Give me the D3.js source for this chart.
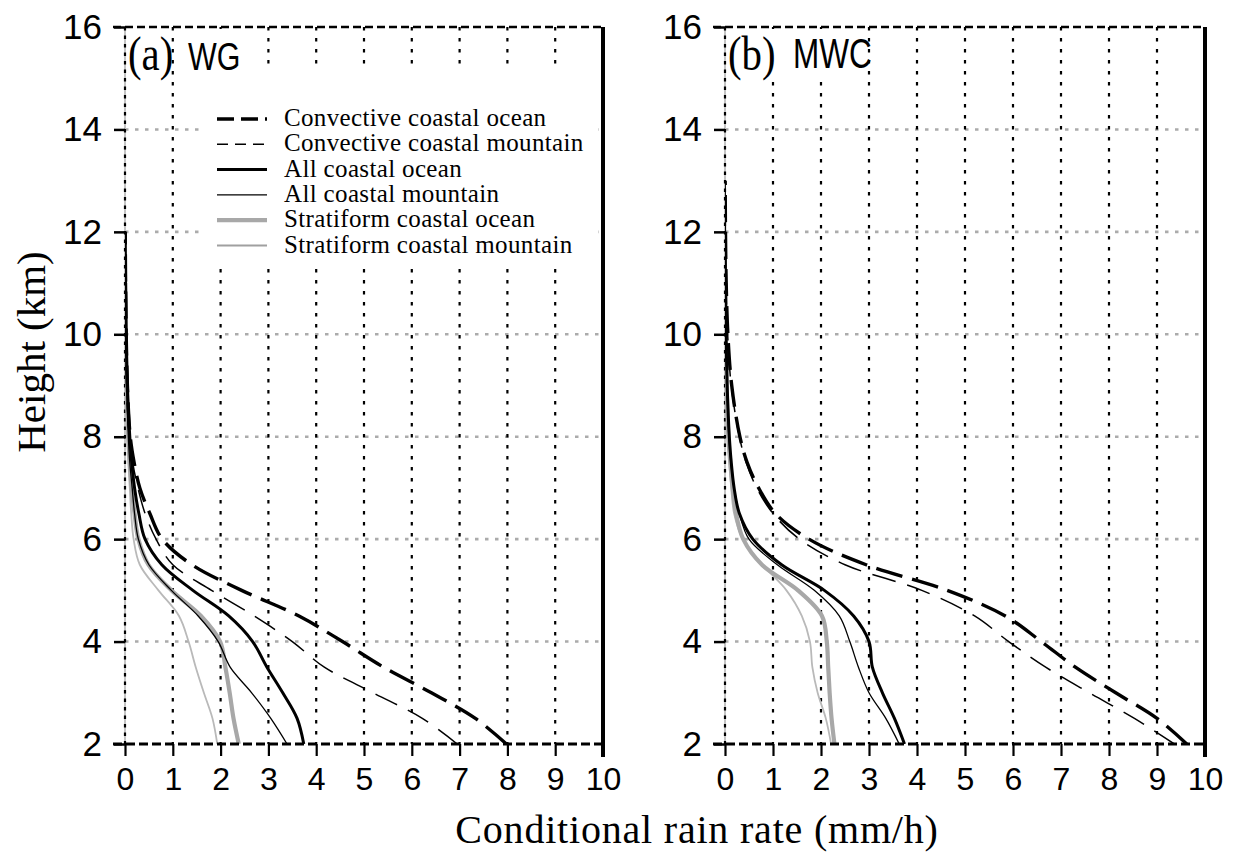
<!DOCTYPE html>
<html>
<head>
<meta charset="utf-8">
<script src="https://cdn.jsdelivr.net/npm/d3@7"></script>
<style>
  body { margin: 0; background: #fff; }
  svg { display: block; }
</style>
</head>
<body>
<svg id="chart" width="1237" height="858"></svg>
<script>
// Heights (km) at which the rain-rate profiles are sampled
const heights = [2, 2.5, 3, 3.5, 4, 4.5, 5, 5.5, 6, 6.5, 7, 7.5, 8, 9, 10, 11, 12, 13];

const xTicks = [0, 1, 2, 3, 4, 5, 6, 7, 8, 9, 10];
const yTicks = [2, 4, 6, 8, 10, 12, 14, 16];

const seriesNames = [
  "Convective coastal ocean",
  "Convective coastal mountain",
  "All coastal ocean",
  "All coastal mountain",
  "Stratiform coastal ocean",
  "Stratiform coastal mountain"
];

// (a) WG — conditional rain rate (mm/h)
const wgConvOcean     = [7.98, 7.33, 6.41, 5.41, 4.55, 3.64, 2.44, 1.40, 0.78, 0.52, 0.31, 0.19, 0.11, 0.05, 0.025, 0.012, 0.005, null];
const wgConvMountain  = [6.95, 6.22, 5.19, 4.17, 3.50, 2.70, 1.81, 1.00, 0.65, 0.42, 0.27, 0.16, 0.09, 0.045, 0.02, 0.01, 0.004, null];
const wgAllOcean      = [3.74, 3.60, 3.30, 2.97, 2.67, 2.17, 1.42, 0.77, 0.42, 0.29, 0.20, 0.14, 0.10, 0.05, 0.025, 0.012, 0.005, null];
const wgAllMountain   = [3.39, 3.05, 2.65, 2.20, 1.95, 1.53, 0.97, 0.50, 0.28, 0.20, 0.15, 0.10, 0.07, 0.035, 0.018, 0.008, 0.003, null];
const wgStratOcean    = [2.38, 2.27, 2.19, 2.10, 1.99, 1.59, 0.97, 0.49, 0.28, 0.20, 0.14, 0.10, 0.07, 0.035, 0.015, 0.006, null, null];
const wgStratMountain = [1.93, 1.83, 1.65, 1.48, 1.33, 1.13, 0.70, 0.31, 0.18, 0.13, 0.10, 0.07, 0.05, 0.025, 0.01, null, null, null];

// (b) MWC — conditional rain rate (mm/h)
const mwcConvOcean     = [9.62, 9.00, 8.14, 7.30, 6.59, 5.84, 4.63, 2.94, 1.75, 1.05, 0.70, 0.46, 0.31, 0.14, 0.06, 0.025, 0.01, 0.004];
const mwcConvMountain  = [9.36, 8.53, 7.59, 6.68, 5.91, 5.20, 4.10, 2.50, 1.55, 1.00, 0.66, 0.44, 0.30, 0.13, 0.055, 0.022, 0.008, 0.003];
const mwcAllOcean      = [3.74, 3.53, 3.28, 3.07, 3.00, 2.68, 2.07, 1.18, 0.58, 0.30, 0.19, 0.13, 0.09, 0.045, 0.02, 0.01, 0.004, null];
const mwcAllMountain   = [3.63, 3.35, 3.00, 2.78, 2.60, 2.38, 1.86, 1.09, 0.50, 0.30, 0.19, 0.12, 0.08, 0.04, 0.018, 0.008, 0.003, null];
const mwcStratOcean    = [2.28, 2.22, 2.18, 2.15, 2.12, 2.02, 1.52, 0.77, 0.38, 0.23, 0.16, 0.11, 0.07, 0.035, 0.015, 0.006, null, null];
const mwcStratMountain = [2.21, 2.10, 1.93, 1.82, 1.77, 1.60, 1.28, 0.78, 0.37, 0.19, 0.13, 0.09, 0.06, 0.03, 0.012, null, null, null];

// Line styles, one per series
const seriesStyles = [
  { color: "#000",    width: 3.4, dash: "27,10", legendDash: "17,7" },
  { color: "#000",    width: 1.5, dash: "24,12", legendDash: "11,7" },
  { color: "#000",    width: 3.0, dash: null,    legendDash: null },
  { color: "#000",    width: 1.3, dash: null,    legendDash: null },
  { color: "#a8a8a8", width: 4.2, dash: null,    legendDash: null },
  { color: "#b9b9b9", width: 1.8, dash: null,    legendDash: null }
];

const panels = [
  { tag: "(a)", region: "WG",  range: [125, 603],  legend: true,
    series: [wgConvOcean, wgConvMountain, wgAllOcean, wgAllMountain, wgStratOcean, wgStratMountain] },
  { tag: "(b)", region: "MWC", range: [725, 1205], legend: false,
    series: [mwcConvOcean, mwcConvMountain, mwcAllOcean, mwcAllMountain, mwcStratOcean, mwcStratMountain] }
];

const svg = d3.select("#chart");
const y = d3.scaleLinear().domain([2, 16]).range([744, 27]);
const sansFont = "'Liberation Sans', Arial, sans-serif";
const serifFont = "'Liberation Serif', 'Times New Roman', serif";

panels.forEach((p, pi) => {
  const x = d3.scaleLinear().domain([0, 10]).range(p.range);
  const g = svg.append("g");
  const x0 = x(0), x1 = x(10), yTop = y(16), yBot = y(2);

  // horizontal grid (gray dots)
  g.selectAll(".hgrid").data(yTicks.filter(t => t > 2 && t < 16)).enter()
    .append("line")
    .attr("x1", x0).attr("x2", x1)
    .attr("y1", d => y(d)).attr("y2", d => y(d))
    .attr("stroke", "#ababab").attr("stroke-width", 2.6)
    .attr("stroke-dasharray", "3.5,6.5");

  // vertical grid (black dots)
  g.selectAll(".vgrid").data(xTicks.filter(t => t > 0 && t < 10)).enter()
    .append("line")
    .attr("x1", d => x(d)).attr("x2", d => x(d))
    .attr("y1", yTop).attr("y2", yBot)
    .attr("stroke", "#000").attr("stroke-width", 2.2)
    .attr("stroke-dasharray", "3.5,7.5");

  // left edge: faint solid with dotted overlay
  g.append("line").attr("x1", x0).attr("x2", x0).attr("y1", yTop).attr("y2", yBot)
    .attr("stroke", "#c4c4c4").attr("stroke-width", 2);
  g.append("line").attr("x1", x0).attr("x2", x0).attr("y1", yTop).attr("y2", yBot)
    .attr("stroke", "#000").attr("stroke-width", 2.2).attr("stroke-dasharray", "3.5,5");

  // white backing behind the panel title
  if (pi === 0) {
    g.append("rect").attr("x", 185).attr("y", yTop + 2).attr("width", 62).attr("height", 48).attr("fill", "#fff");
  } else {
    g.append("rect").attr("x", x0 + 2).attr("y", yTop + 2).attr("width", 140).attr("height", 48).attr("fill", "#fff");
  }

  // legend (panel a)
  if (p.legend) {
    g.append("rect").attr("x", 200).attr("y", 68).attr("width", 398).attr("height", 194).attr("fill", "#fff");
    const lg = g.append("g");
    seriesNames.forEach((name, i) => {
      const st = seriesStyles[i];
      const by = 126 + i * 25.3;
      lg.append("line")
        .attr("x1", 217).attr("x2", 267).attr("y1", by - 7).attr("y2", by - 7)
        .attr("stroke", st.color === "#b9b9b9" ? "#a0a0a0" : st.color)
        .attr("stroke-width", st.width)
        .attr("stroke-dasharray", st.legendDash);
      lg.append("text")
        .attr("x", 284).attr("y", by)
        .attr("font-family", serifFont).attr("font-size", 25)
        .attr("letter-spacing", "0.35px")
        .attr("fill", "#000")
        .text(name);
    });
  }

  // profiles
  const clipId = "clip" + pi;
  svg.append("clipPath").attr("id", clipId).append("rect")
    .attr("x", x0).attr("y", yTop).attr("width", x1 - x0).attr("height", yBot - yTop);
  const line = d3.line()
    .defined(d => d.v !== null)
    .x(d => x(d.v)).y(d => y(d.h))
    .curve(d3.curveCatmullRom.alpha(0.5));
  const cg = g.append("g").attr("clip-path", `url(#${clipId})`);
  for (let i = p.series.length - 1; i >= 0; i--) {
    const st = seriesStyles[i];
    const pts = heights.map((h, k) => ({ h, v: p.series[i][k] }));
    cg.append("path")
      .datum(pts)
      .attr("d", line)
      .attr("fill", "none")
      .attr("stroke", st.color)
      .attr("stroke-width", st.width)
      .attr("stroke-linejoin", "round")
      .attr("stroke-dasharray", st.dash);
  }

  // frame: dashed top and bottom, thick solid right
  g.append("line").attr("x1", x0 - 12).attr("x2", x1).attr("y1", yTop).attr("y2", yTop)
    .attr("stroke", "#000").attr("stroke-width", 2.6).attr("stroke-dasharray", "8,4");
  g.append("line").attr("x1", x0 - 12).attr("x2", x1).attr("y1", yBot).attr("y2", yBot)
    .attr("stroke", "#000").attr("stroke-width", 3).attr("stroke-dasharray", "9,4");
  g.append("line").attr("x1", x1).attr("x2", x1).attr("y1", yTop).attr("y2", yBot + 13)
    .attr("stroke", "#000").attr("stroke-width", 4);

  // y axis
  const yAxis = g.append("g").attr("transform", `translate(${x0},0)`)
    .call(d3.axisLeft(y).tickValues(yTicks).tickSize(11).tickPadding(12).tickFormat(d3.format("d")));
  yAxis.select(".domain").remove();
  yAxis.selectAll(".tick line").attr("stroke", "#000").attr("stroke-width", 2.5);
  yAxis.selectAll(".tick text").attr("font-family", sansFont).attr("font-size", 35).attr("fill", "#000");

  // x axis
  const xAxis = g.append("g").attr("transform", `translate(0,${yBot})`)
    .call(d3.axisBottom(x).tickValues(xTicks).tickSize(12).tickPadding(11).tickFormat(d3.format("d")));
  xAxis.select(".domain").remove();
  xAxis.selectAll(".tick line").attr("stroke", "#000").attr("stroke-width", 2.2);
  xAxis.selectAll(".tick text").attr("font-family", sansFont).attr("font-size", 32).attr("fill", "#000");

  // panel title
  const tagX = x0 + 3;
  g.append("text")
    .attr("transform", `translate(${tagX},70) scale(0.85,1)`)
    .attr("font-family", serifFont).attr("font-size", 48).attr("fill", "#000")
    .text(p.tag);
  g.append("text")
    .attr("transform", `translate(${pi === 0 ? 188 : 793},${pi === 0 ? 70 : 68}) scale(${pi === 0 ? 0.78 : 0.75},1)`)
    .attr("font-family", sansFont).attr("font-size", pi === 0 ? 39 : 42).attr("fill", "#000")
    .text(p.region);
});

// axis titles
svg.append("text")
  .attr("transform", "translate(45,352) rotate(-90)")
  .attr("text-anchor", "middle")
  .attr("font-family", serifFont).attr("font-size", 41).attr("fill", "#000")
  .text("Height (km)");

svg.append("text")
  .attr("x", 697).attr("y", 843)
  .attr("text-anchor", "middle")
  .attr("font-family", serifFont).attr("font-size", 40)
  .attr("letter-spacing", "0.8px")
  .attr("fill", "#000")
  .text("Conditional rain rate (mm/h)");
</script>
</body>
</html>
